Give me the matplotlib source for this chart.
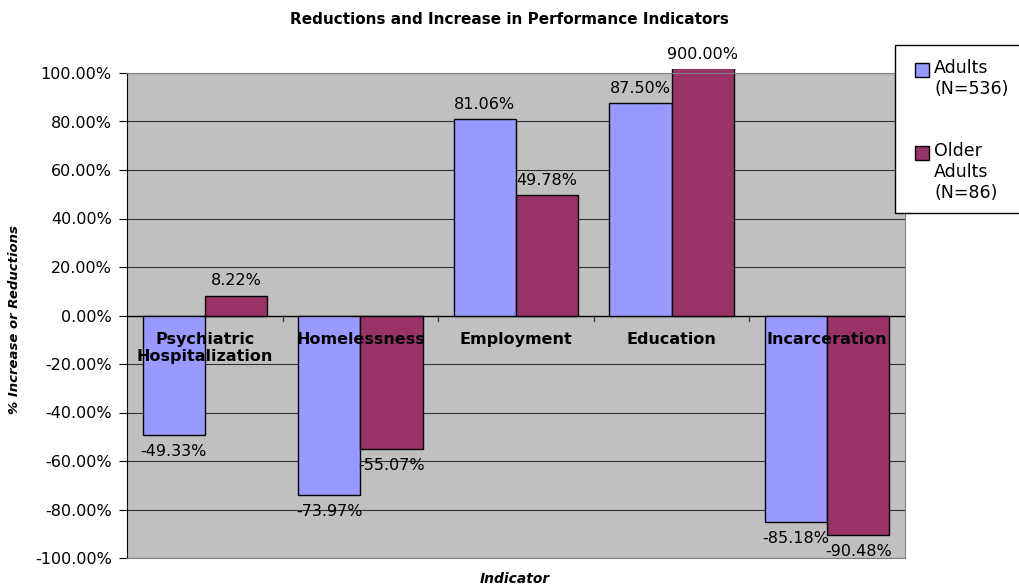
import matplotlib
matplotlib.use("Agg")
import matplotlib.pyplot as plt
import numpy as np
from matplotlib.patches import Rectangle

categories = ["Psychiatric\nHospitalization", "Homelessness", "Employment", "Education", "Incarceration"]
adults = [-49.33, -73.97, 81.06, 87.50, -85.18]
older = [8.22, -55.07, 49.78, 900.00, -90.48]
series_names = ["Adults\n(N=536)", "Older\nAdults\n(N=86)"]
yticks = [-100, -80, -60, -40, -20, 0, 20, 40, 60, 80, 100]

plt.rcParams['font.family'] = ['DejaVu Sans']

W, H = 1019, 588
fig = plt.figure(figsize=(W/100, H/100), dpi=100)
ax = fig.add_axes([127/W, 30/H, (905-127)/W, (558-73)/H])
ax.set_facecolor('#C0C0C0')

x = np.arange(len(categories))
w = 0.4
c1 = '#9999FF'
c2 = '#993366'

for v in yticks:
    ax.axhline(v, color='#000000' if v == 0 else '#303030', lw=1.0 if v == 0 else 0.8, zorder=1)

b1 = ax.bar(x - w/2, adults, w, color=c1, edgecolor='black', lw=1, zorder=2)
b2 = ax.bar(x + w/2, older, w, color=c2, edgecolor='black', lw=1, zorder=2)

ax.set_xlim(-0.5, len(categories) - 0.5)
ax.set_ylim(-100, 100)

clip = Rectangle((0, 0), 1, 1.008, transform=ax.transAxes)
for b in list(b1) + list(b2):
    b.set_clip_path(clip)

FS = 11.5
def lab(bars, vals):
    for b, v in zip(bars, vals):
        xc = b.get_x() + b.get_width()/2
        vv = min(v, 100)
        if v >= 0:
            ax.text(xc, vv + (4.5 if v > 100 else 3), f"{v:.2f}%", ha='center', va='bottom',
                    fontsize=FS, zorder=4, clip_on=False)
        else:
            ax.text(xc, vv - 3.8, f"{v:.2f}%", ha='center', va='top', fontsize=FS, zorder=4)
lab(b1, adults)
lab(b2, older)

ax.set_yticks(yticks)
ax.set_yticklabels([f"{v:.2f}%" for v in yticks], fontsize=FS)
ax.tick_params(axis='y', direction='out', length=6, color='black', pad=5)
ax.set_xticks([])
for t in np.arange(len(categories) - 1) + 0.5:
    ax.plot([t, t], [0, -2.2], color='#404040', lw=1, zorder=1)

for xi, c in zip(x, categories):
    ax.text(xi, -7, c, ha='center', va='top', fontsize=FS, fontweight='bold', zorder=5, linespacing=1.15)

for s in ['top', 'right', 'bottom']:
    ax.spines[s].set_color('#808080')
ax.spines['left'].set_color('black')

fig.text(0.5, 1 - 19/H, "Reductions and Increase in Performance Indicators", ha='center', va='center',
         fontsize=11, fontweight='bold')
fig.text(15/W, 1 - 320/H, "% Increase or Reductions", rotation=90, ha='center', va='center',
         fontsize=9.5, fontweight='bold', style='italic')
fig.text(515/W, 1 - 579/H, "Indicator", ha='center', va='center', fontsize=10, fontweight='bold', style='italic')

# legend (drawn manually to match layout)
fig.patches.append(Rectangle((895/W, 1 - 213/H), 130/W, 168/H, transform=fig.transFigure,
                             facecolor='white', edgecolor='black', lw=1, zorder=5))
entries = [(c1, series_names[0], 63), (c2, series_names[1], 146)]
for col, name, ytop in entries:
    fig.patches.append(Rectangle((915/W, 1 - (ytop + 14)/H), 14/W, 14/H, transform=fig.transFigure,
                                 facecolor=col, edgecolor='black', lw=1, zorder=6))
    fig.text(934/W, 1 - (ytop - 4)/H, name, ha='left', va='top', fontsize=12.5, linespacing=1.2, zorder=7)

fig.savefig("out.png", dpi=100)
